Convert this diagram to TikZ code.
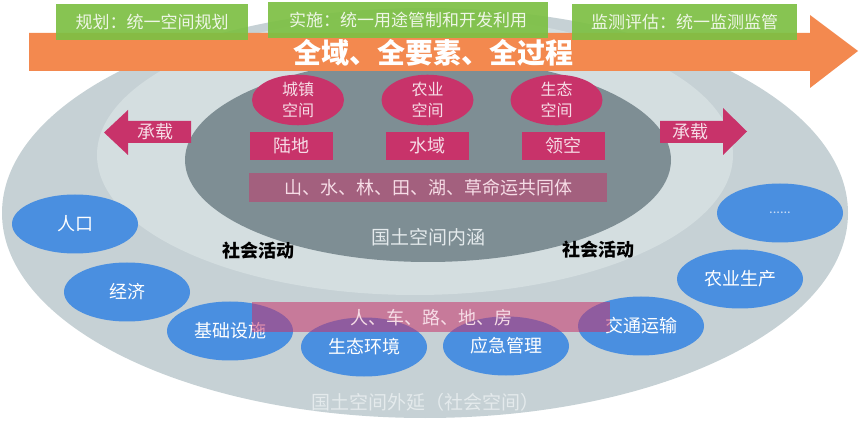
\documentclass[tikz,border=0pt]{standalone}
\usepackage{fontspec}
\setmainfont{Noto Sans CJK SC}
\usetikzlibrary{shapes.geometric}
\definecolor{outerc}{HTML}{C6D1D5}
\definecolor{midc}{HTML}{D4DEE0}
\definecolor{innerc}{HTML}{7E8E94}
\definecolor{orangec}{HTML}{F3894F}
\definecolor{greenc}{HTML}{7DC044}
\definecolor{crim}{HTML}{C8336A}
\definecolor{bluec}{HTML}{4A8FE0}
\definecolor{palepink}{HTML}{F6DCE6}
\definecolor{palegreen}{HTML}{EEF6E6}
\definecolor{paletext}{HTML}{E4EAEC}
\definecolor{paleblue}{HTML}{C9DDF6}
\tikzset{
  greenbox/.style={fill=greenc, fill opacity=0.92, text opacity=1, text=palegreen, minimum height=36pt, inner sep=0pt, font=\fontsize{17}{20}\selectfont},
  pinkell/.style={ellipse, fill=crim, text=palepink, minimum width=92pt, minimum height=46pt, inner sep=0pt, align=center, font=\fontsize{16}{21}\selectfont},
  pinkrect/.style={fill=crim, text=palepink, minimum width=83pt, minimum height=28pt, inner sep=0pt, font=\fontsize{18}{20}\selectfont},
  bandrect/.style={fill=crim, fill opacity=0.5, text opacity=1, text=palepink, inner sep=0pt, font=\fontsize{18}{20}\selectfont},
  blueell/.style={ellipse, fill=bluec, text=white, minimum width=126pt, minimum height=59pt, inner sep=0pt, font=\fontsize{18}{20}\selectfont},
  actlabel/.style={text=black, font=\bfseries\fontsize{18}{20}\selectfont},
  arrowtext/.style={text=palepink, font=\fontsize{18}{20}\selectfont},
}
\begin{document}
\begin{tikzpicture}[x=1pt,y=-1pt]
\useasboundingbox (0,0) rectangle (859,427);
\fill[white] (0,0) rectangle (859,427);
% nested ellipses
\fill[outerc] (425,213) ellipse [x radius=423pt, y radius=205pt];
\fill[midc] (415,155) ellipse [x radius=318pt, y radius=140pt];
\fill[innerc] (428,160) ellipse [x radius=243pt, y radius=102pt];
% orange arrow
\fill[orangec] (29,33) -- (810,33) -- (810,15) -- (858,51) -- (810,88) -- (810,71) -- (29,71) -- cycle;
% green boxes
\node[greenbox, minimum width=192pt] (g1) at (152,22) {规划：统一空间规划};
\node[greenbox, minimum width=280pt] (g2) at (408,20) {实施：统一用途管制和开发利用};
\node[greenbox, minimum width=225pt] (g3) at (684.5,22) {监测评估：统一监测监管};
\node[text=white, font=\bfseries\fontsize{28}{30}\selectfont] (title) at (433,53) {全域、全要素、全过程};
% inner content
\node[pinkell] (town) at (298,100) {城镇\\空间};
\node[pinkell] (agri) at (427.5,100) {农业\\空间};
\node[pinkell] (eco) at (556.5,100) {生态\\空间};
\node[pinkrect] (land) at (291.5,146) {陆地};
\node[pinkrect] (water) at (427.5,146) {水域};
\node[pinkrect] (air) at (563.5,146) {领空};
\node[bandrect, minimum width=358pt, minimum height=29pt] (life) at (428,187.5) {山、水、林、田、湖、草命运共同体};
\node[text=paletext, font=\fontsize{19}{21}\selectfont] (inner) at (428,237) {国土空间内涵};
% carrying arrows
\fill[crim] (191,121) -- (128,121) -- (128,110) -- (104,132.5) -- (128,155) -- (128,143) -- (191,143) -- cycle;
\node[arrowtext] (carryL) at (155,132) {承载};
\fill[crim] (660,121) -- (723,121) -- (723,108) -- (747,131.5) -- (723,155) -- (723,143) -- (660,143) -- cycle;
\node[arrowtext] (carryR) at (690,132) {承载};
% social activities
\node[actlabel] (actL) at (258,251) {社会活动};
\node[actlabel] (actR) at (598,250) {社会活动};
% blue ellipses
\node[blueell] (pop) at (75,224) {人口};
\node[blueell] (econ) at (127,292) {经济};
\node[blueell] (infra) at (230,331) {基础设施};
\node[blueell] (envi) at (364,347) {生态环境};
\node[blueell] (emerg) at (506,346) {应急管理};
\node[blueell] (traffic) at (641,326) {交通运输};
\node[blueell] (farm) at (740,279) {农业生产};
\node[blueell, text=paleblue] (more) at (780,213) {\fontsize{13}{14}\selectfont ......};
% translucent band
\node[bandrect, fill opacity=0.55, minimum width=358pt, minimum height=30pt] (band) at (431,317) {};
\node[text=palepink, font=\fontsize{18}{20}\selectfont] (bandtext) at (431,318) {人、车、路、地、房};
\node[text=paletext, font=\fontsize{19}{21}\selectfont] (outer) at (425,402) {国土空间外延（社会空间）};
\end{tikzpicture}
\end{document}
